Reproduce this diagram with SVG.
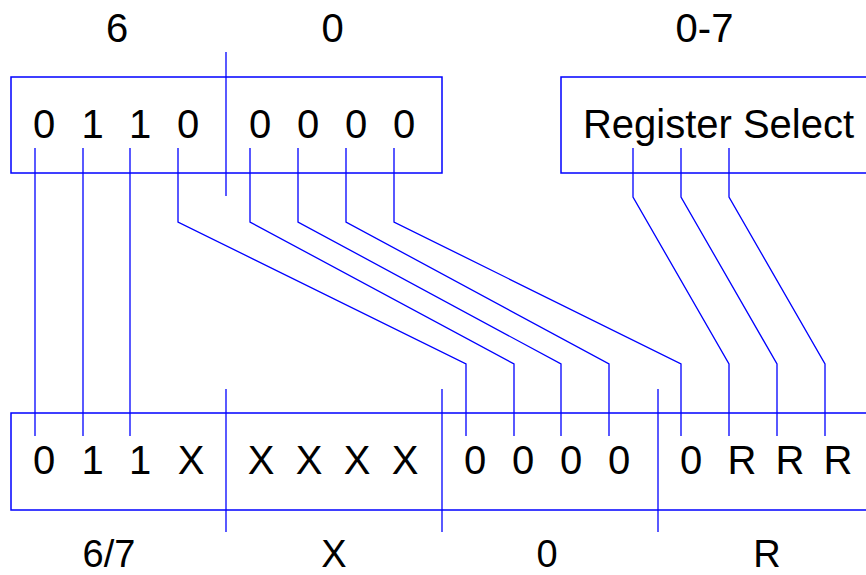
<svg xmlns="http://www.w3.org/2000/svg" width="866" height="575" viewBox="0 0 866 575">
<style>
.box{fill:none;stroke:#0000ff;stroke-width:1.5}
.w{fill:none;stroke:#0000ff;stroke-width:1.3}
text{font-family:"Liberation Sans",Arial,sans-serif;font-size:40px;fill:#000;text-anchor:middle}
.bl{font-size:38px}
</style>
<rect width="866" height="575" fill="#fff"/>
<g id="labels-top">
<text x="117" y="41.5">6</text>
<text x="332.5" y="41.5">0</text>
<text x="704.5" y="41.5">0-7</text>
</g>
<g id="opcode-box">
<rect class="box" x="11" y="77" width="431" height="96"/>
<line class="w" x1="226" y1="52" x2="226" y2="196"/>
<text x="44" y="138">0</text>
<text x="92.5" y="138">1</text>
<text x="140" y="138">1</text>
<text x="188" y="138">0</text>
<text x="260" y="138">0</text>
<text x="308" y="138">0</text>
<text x="356" y="138">0</text>
<text x="404" y="138">0</text>
</g>
<g id="register-select">
<rect class="box" x="561" y="77" width="320" height="96"/>
<text x="718.5" y="138">Register Select</text>
</g>
<g id="connectors">
<polyline class="w" points="35,148 35,436"/>
<polyline class="w" points="83,148 83,436"/>
<polyline class="w" points="130,148 130,436"/>
<polyline class="w" points="178,148 178,222 466,364 466,436"/>
<polyline class="w" points="250,148 250,222 514,364 514,436"/>
<polyline class="w" points="298,148 298,222 561,364 561,436"/>
<polyline class="w" points="346,148 346,222 609,364 609,436"/>
<polyline class="w" points="394,148 394,222 681,364 681,436"/>
<polyline class="w" points="633,148 633,197 729,364 729,436"/>
<polyline class="w" points="681,148 681,197 777,364 777,436"/>
<polyline class="w" points="729,148 729,197 825,364 825,436"/>
</g>
<g id="result-box">
<rect class="box" x="11" y="413" width="870" height="97"/>
<line class="w" x1="226" y1="389" x2="226" y2="532"/>
<line class="w" x1="442" y1="389" x2="442" y2="532"/>
<line class="w" x1="658" y1="389" x2="658" y2="532"/>
<text x="44" y="474">0</text>
<text x="92.5" y="474">1</text>
<text x="140" y="474">1</text>
<text x="191" y="474">X</text>
<text x="261" y="474">X</text>
<text x="309" y="474">X</text>
<text x="357" y="474">X</text>
<text x="405" y="474">X</text>
<text x="475" y="474">0</text>
<text x="523" y="474">0</text>
<text x="571" y="474">0</text>
<text x="619" y="474">0</text>
<text x="691" y="474">0</text>
<text x="742" y="474">R</text>
<text x="790" y="474">R</text>
<text x="838" y="474">R</text>
</g>
<g id="labels-bottom">
<text class="bl" x="109" y="566.5">6/7</text>
<text class="bl" x="334" y="566.5">X</text>
<text class="bl" x="547" y="566.5">0</text>
<text class="bl" x="767" y="566.5">R</text>
</g>
</svg>
